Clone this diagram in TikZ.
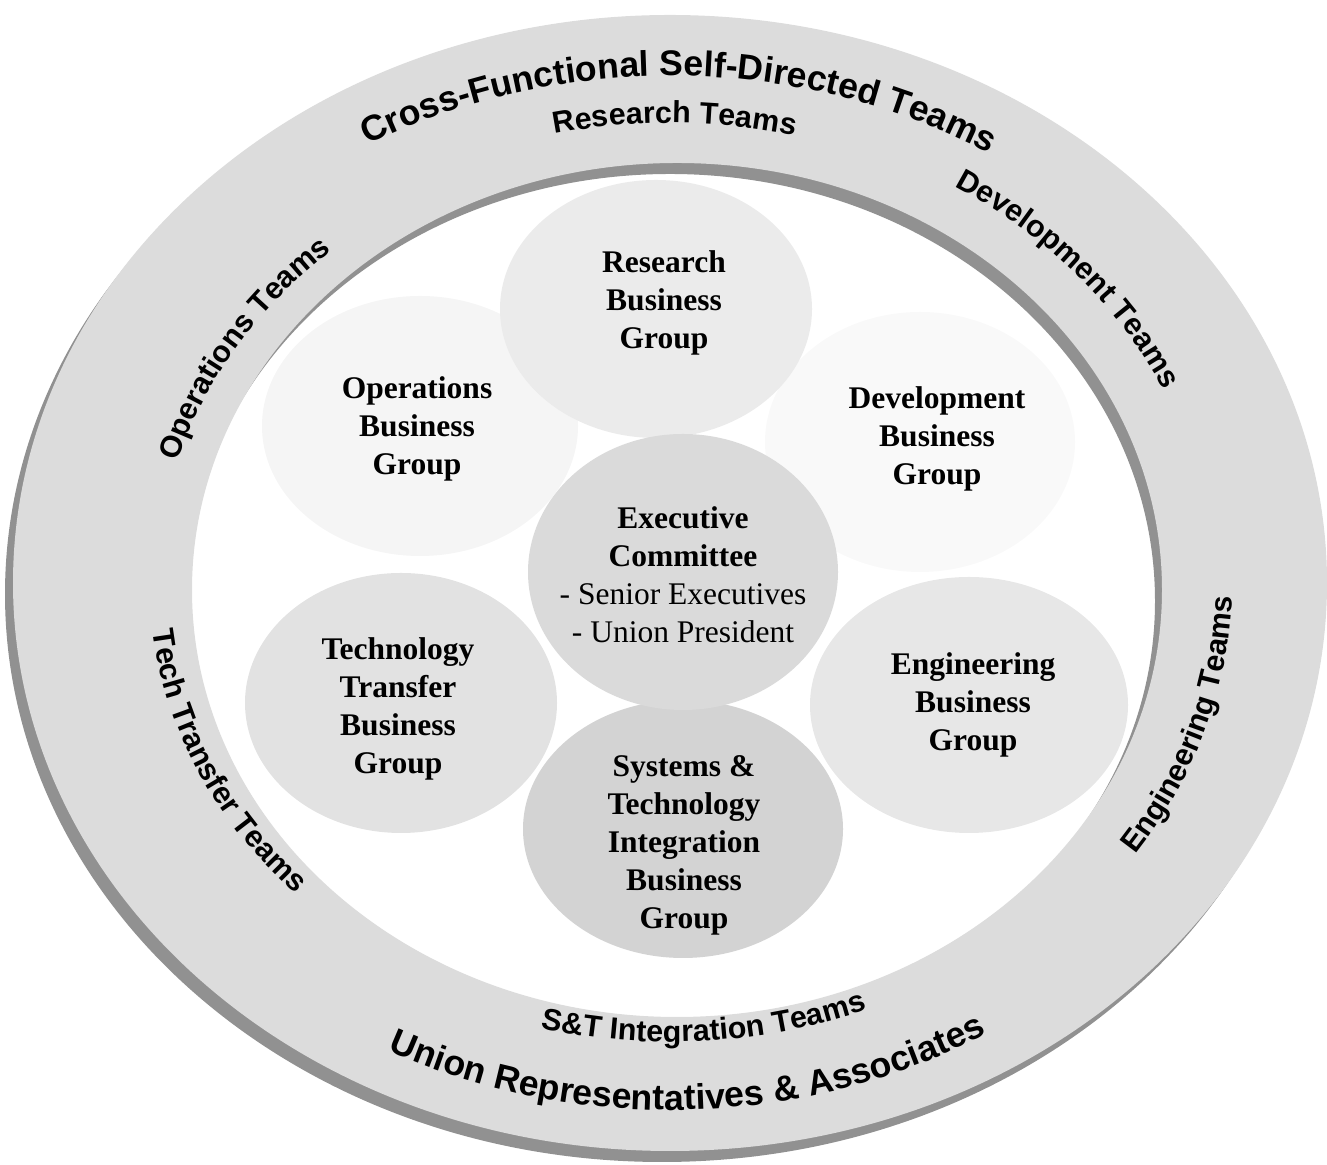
\documentclass[tikz,border=0pt]{standalone}
\usepackage{fontspec}
\setmainfont{Liberation Serif}
\newfontfamily\ringfont{Liberation Sans}
\usetikzlibrary{shapes.geometric,decorations.text,calc}

\definecolor{ringC}{HTML}{DCDCDC}
\definecolor{shadowC}{HTML}{919191}
\definecolor{resC}{HTML}{EBEBEB}
\definecolor{opsC}{HTML}{F5F5F5}
\definecolor{devC}{HTML}{F9F9F9}
\definecolor{exeC}{HTML}{DADADA}
\definecolor{tecC}{HTML}{E2E2E2}
\definecolor{engC}{HTML}{E7E7E7}
\definecolor{sysC}{HTML}{D3D3D3}

\begin{document}
\begin{tikzpicture}
  [x=0.5pt,y=0.5pt,
   groupN/.style={ellipse,inner sep=0pt,minimum width=#1},
   groupT/.style={align=center,font=\fontsize{15.75}{19}\selectfont\bfseries},
   teamT/.style={decorate,decoration={text along path,text align=center,
     text={|\ringfont\bfseries\fontsize{15.2}{18}\selectfont|#1}}},
   bigT/.style={decorate,decoration={text along path,text align=center,
     text={|\ringfont\bfseries\fontsize{17.8}{20}\selectfont|#1}}}]

  \useasboundingbox (0,0) rectangle (1327,1165);
  \coordinate (c) at (670,582);

  % ring with its shadow
  \fill[shadowC,even odd rule] (662,571) ellipse [x radius=657,y radius=568]
    (670,564) ellipse [x radius=485,y radius=427];
  \fill[ringC,even odd rule] (c) ellipse [x radius=657,y radius=568]
    (677,575) ellipse [x radius=485,y radius=427];

  % texts on the ring
  \path[bigT={Cross-Functional Self-Directed Teams}]
    ($(c)+(149:600 and 507)$) arc[start angle=149,end angle=29,x radius=600,y radius=507];
  \path[teamT={Research Teams}]
    ($(c)+(120:534 and 460)$) arc[start angle=120,end angle=59,x radius=534,y radius=460];
  \path[teamT={Development Teams}]
    ($(c)+(80:542 and 466)$) arc[start angle=80,end angle=0,x radius=542,y radius=466];
  \path[teamT={Operations Teams}]
    ($(c)+(189:512 and 442)$) arc[start angle=189,end angle=109,x radius=512,y radius=442];
  \path[teamT={Tech Transfer Teams}]
    ($(c)+(164:520 and 448)$) arc[start angle=164,end angle=244,x radius=520,y radius=448];
  \path[teamT={Engineering Teams}]
    ($(c)+(-57:562 and 484)$) arc[start angle=-57,end angle=23,x radius=562,y radius=484];
  \path[teamT={S{\&}T Integration Teams}]
    ($(c)+(234:532 and 459)$) arc[start angle=234,end angle=314,x radius=532,y radius=459];
  \path[bigT={Union Representatives {\&} Associates}]
    ($(c)+(212:611 and 527)$) arc[start angle=212,end angle=332,x radius=611,y radius=527];

  % business groups
  \node[groupN=155pt,minimum height=130pt,fill=devC] (dev) at (920,723) {};
  \node[groupN=158pt,minimum height=130pt,fill=opsC] (ops) at (420,739) {};
  \node[groupN=156pt,minimum height=129pt,fill=resC] (res) at (656,856) {};
  \node[groupN=159pt,minimum height=128pt,fill=engC] (eng) at (969,460) {};
  \node[groupN=156pt,minimum height=130pt,fill=tecC] (tec) at (401,462) {};
  \node[groupN=160pt,minimum height=129pt,fill=sysC] (sys) at (683,336) {};
  \node[groupN=155pt,minimum height=138pt,fill=exeC] (exe) at (683,593) {};

  \node[groupT] (devL) at (937,726) {Development\\Business\\Group};
  \node[groupT] (opsL) at (417,736) {Operations\\Business\\Group};
  \node[groupT] (resL) at (664,862) {Research\\Business\\Group};
  \node[groupT] (engL) at (973,460) {Engineering\\Business\\Group};
  \node[groupT] (tecL) at (398,456) {Technology\\Transfer\\Business\\Group};
  \node[groupT] (sysL) at (684,320) {Systems \&\\Technology\\Integration\\Business\\Group};
  \node[groupT] (exeL) at (683,590) {Executive\\Committee\\\textmd{- Senior Executives}\\\textmd{- Union President}};

\end{tikzpicture}
\end{document}
